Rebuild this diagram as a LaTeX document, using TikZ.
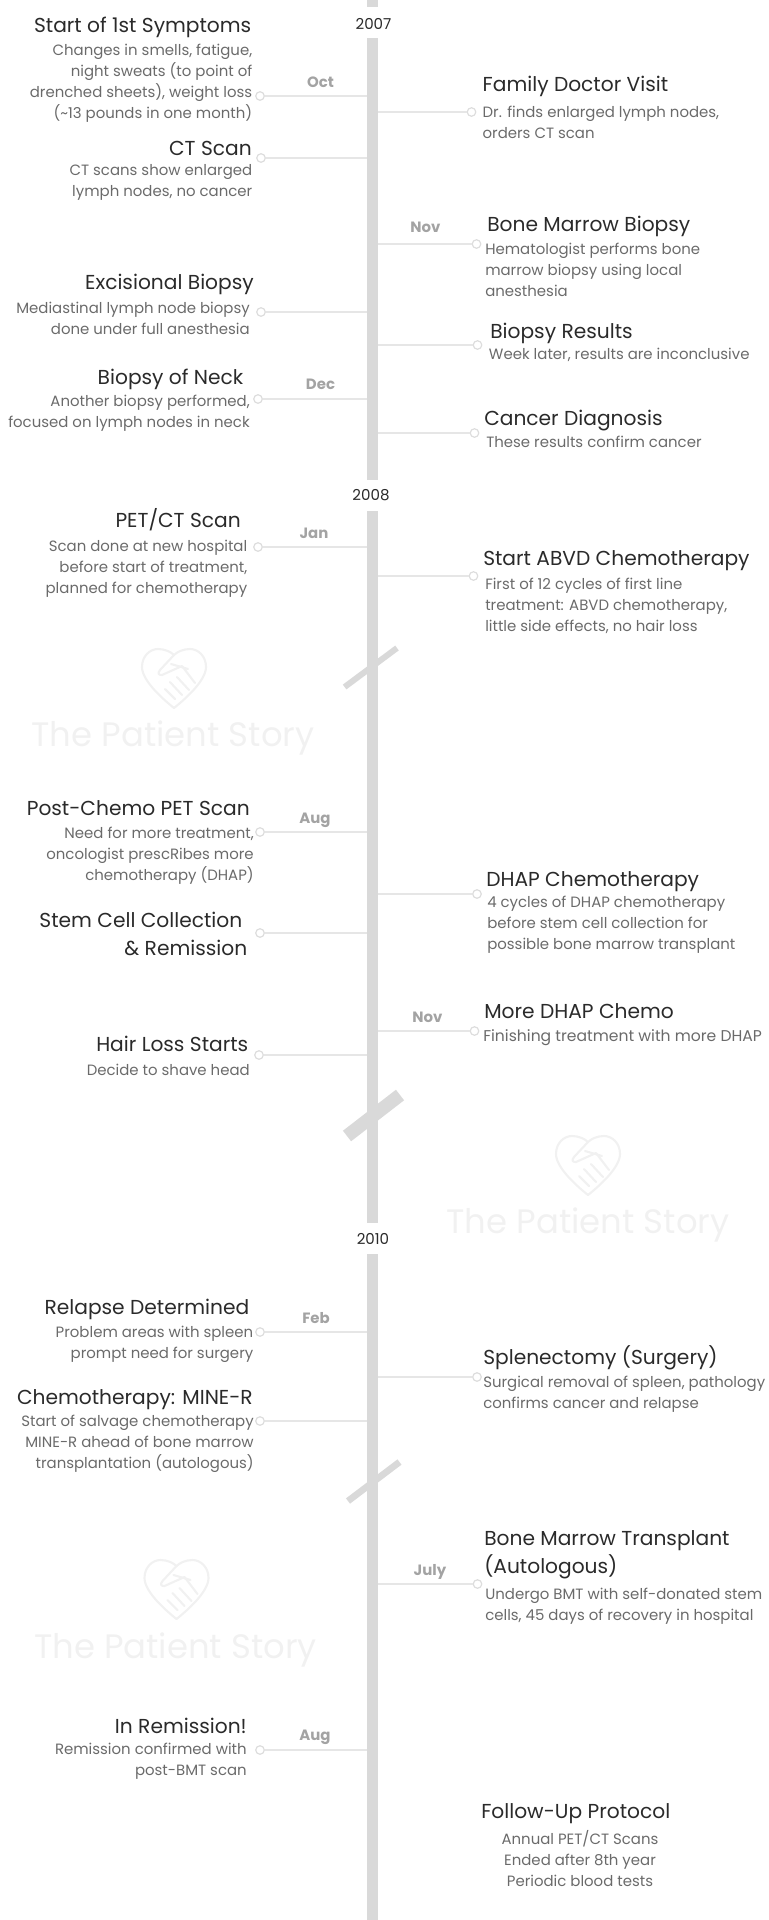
\documentclass[tikz,border=0pt]{standalone}
\usepackage{fontspec}
\setmainfont{Poppins}
\usetikzlibrary{positioning}
\definecolor{barcol}{HTML}{D9D9D9}
\definecolor{linecol}{HTML}{E6E6E6}
\definecolor{dotcol}{HTML}{DDDDDD}
\definecolor{headcol}{HTML}{2A2A2A}
\definecolor{textcol}{HTML}{6A6A6A}
\definecolor{monthcol}{HTML}{A3A3A3}
\definecolor{markcol}{HTML}{F1F1F1}
\tikzset{
  headL/.style={anchor=east,align=right,inner sep=0pt,yshift=-1.2pt,text=headcol,font=\fontsize{15.15}{21}\selectfont},
  headR/.style={anchor=west,align=left,inner sep=0pt,yshift=-1.2pt,text=headcol,font=\fontsize{15.15}{21}\selectfont},
  bodyL/.style={anchor=east,align=right,inner sep=0pt,yshift=-0.5pt,text=textcol,font=\fontsize{11.2}{15.75}\selectfont},
  bodyR/.style={anchor=west,align=left,inner sep=0pt,yshift=-0.5pt,text=textcol,font=\fontsize{11.2}{15.75}\selectfont},
  monthlab/.style={inner sep=0pt,text=monthcol,font=\fontsize{11.2}{12}\selectfont\bfseries},
  yearlab/.style={inner sep=0pt,text=headcol,font=\fontsize{11.3}{12}\selectfont},
  dotmark/.style={circle,draw=dotcol,fill=white,line width=0.9pt,minimum size=6.4pt,inner sep=0pt},
  linkline/.style={draw=linecol,line width=1.1pt},
  spinebar/.style={draw=barcol,line width=8.4pt},
  wmtext/.style={inner sep=0pt,yshift=-2.2pt,text=markcol,font=\fontsize{25.4}{30}\selectfont},
  pics/heartmark/.style={code={
    \draw[draw=markcol,line width=1.6pt,line join=round,line cap=round]
      (0,30) .. controls (-10,22) and (-32,3) .. (-32,-11)
      .. controls (-32,-22) and (-24,-29) .. (-16,-29)
      .. controls (-9,-29) and (-3,-26) .. (0,-23)
      .. controls (3,-26) and (9,-29) .. (16,-29)
      .. controls (24,-29) and (32,-22) .. (32,-11)
      .. controls (32,3) and (10,22) .. (0,30);
    \draw[draw=markcol,line width=1.6pt,line join=round,line cap=round]
      (0,-23) -- (-14,-8) .. controls (-17,-4) and (-15,-3) .. (-12,-3) -- (8,-12) -- (21,5);
    \draw[draw=markcol,line width=1.6pt,line cap=round] (-4,4) -- (8,17);
    \draw[draw=markcol,line width=1.6pt,line cap=round] (3,-1) -- (15,12);
    \draw[draw=markcol,line width=1.6pt,line cap=round] (-9,11) -- (1,21);
    \draw[draw=markcol,line width=1.6pt,line cap=round] (-3,-14) -- (14,-9);
  }}
}

\begin{document}
\begin{tikzpicture}[x=0.75pt,y=-0.75pt]
\useasboundingbox (0,0) rectangle (768,1920);

% watermarks
\pic at (174,678) {heartmark};
\node[wmtext] (markA) at (173,735) {The Patient Story};
\pic at (588,1165) {heartmark};
\node[wmtext] (markB) at (588,1222) {The Patient Story};
\pic at (176.5,1589) {heartmark};
\node[wmtext] (markC) at (175.5,1647) {The Patient Story};

% spine points
\coordinate (topA) at (372.5,0);
\coordinate (topB) at (372.5,7);
\coordinate (midA) at (372.5,38);
\coordinate (midB) at (372.5,480);
\coordinate (midC) at (372.5,511);
\coordinate (midD) at (372.5,1223);
\coordinate (lowA) at (372.5,1254);
\coordinate (lowB) at (372.5,1920);

% dots on the left
\node[dotmark] (dotOct) at (260,96) {};
\node[dotmark] (dotCT) at (261,158) {};
\node[dotmark] (dotExc) at (261,312) {};
\node[dotmark] (dotNeck) at (258,399) {};
\node[dotmark] (dotPet) at (258,547) {};
\node[dotmark] (dotPost) at (260,832) {};
\node[dotmark] (dotStem) at (260,933) {};
\node[dotmark] (dotHair) at (259,1055) {};
\node[dotmark] (dotRel) at (260,1332) {};
\node[dotmark] (dotMine) at (260,1421) {};
\node[dotmark] (dotRem) at (260,1750) {};
% dots on the right
\node[dotmark] (dotFam) at (471.5,112) {};
\node[dotmark] (dotBone) at (476.5,244) {};
\node[dotmark] (dotRes) at (477.5,345) {};
\node[dotmark] (dotDiag) at (474.5,433) {};
\node[dotmark] (dotAbvd) at (473.5,576) {};
\node[dotmark] (dotDhap) at (477,894) {};
\node[dotmark] (dotMore) at (474.5,1031) {};
\node[dotmark] (dotSpl) at (477,1377) {};
\node[dotmark] (dotBmt) at (477.5,1584) {};

\foreach \dotname in {dotOct,dotCT,dotExc,dotNeck,dotPet,dotPost,dotStem,dotHair,dotRel,dotMine,dotRem,dotFam,dotBone,dotRes,dotDiag,dotAbvd,dotDhap,dotMore,dotSpl,dotBmt}
  \draw[linkline] (\dotname) -- (\dotname -| topA);

% spine and its breaks
\draw[spinebar] (topA) -- (topB);
\draw[spinebar] (midA) -- (midB);
\draw[spinebar] (midC) -- (midD);
\draw[spinebar] (lowA) -- (lowB);
\draw[draw=barcol,line width=4.5pt] (344.6,687) -- (397,648);
\draw[draw=barcol,line width=10pt] (347,1136) -- (400,1095);
\draw[draw=barcol,line width=5pt] (348,1501) -- (399.5,1462);

% years and months
\node[yearlab] (yrA) at (373.5,24) {2007};
\node[yearlab] (yrB) at (371,495) {2008};
\node[yearlab] (yrC) at (373,1239) {2010};
\node[monthlab] (moOct) at (320.5,82) {Oct};
\node[monthlab] (moNov) at (425.5,227) {Nov};
\node[monthlab] (moDec) at (320.5,384) {Dec};
\node[monthlab] (moJan) at (314,533) {Jan};
\node[monthlab] (moAug) at (315,820.5) {Aug};
\node[monthlab] (moNovB) at (427.5,1017) {Nov};
\node[monthlab] (moFeb) at (316,1318) {Feb};
\node[monthlab] (moJuly) at (430,1571.5) {July};
\node[monthlab] (moAugB) at (315,1737) {Aug};

% left column
\node[headL] (hSymp) at (251.5,26) {Start of 1st Symptoms};
\node[bodyL] (bSymp) at (252.5,82.5) {Changes in smells, fatigue,\\night sweats (to point of\\drenched sheets), weight loss\\(\textasciitilde13 pounds in one month)};
\node[headL] (hCT) at (252,147) {CT Scan};
\node[bodyL] (bCT) at (252.5,181.5) {CT scans show enlarged\\lymph nodes, no cancer};
\node[headL] (hExc) at (254,283) {Excisional Biopsy};
\node[bodyL] (bExc) at (250,317.5) {Mediastinal lymph node biopsy\\done under full anesthesia};
\node[headL] (hNeck) at (243.6,378) {Biopsy of Neck};
\node[bodyL] (bNeck) at (250,412.5) {Another biopsy performed,\\focused on lymph nodes in neck};
\node[headL] (hPet) at (241,518.5) {PET/CT Scan};
\node[bodyL] (bPet) at (247.5,568) {Scan done at new hospital\\before start of treatment,\\planned for chemotherapy};
\node[headL] (hPost) at (250,807) {Post-Chemo PET Scan};
\node[bodyL] (bPost) at (254,855) {Need for more treatment,\\oncologist prescRibes more\\chemotherapy (DHAP)};
\node[headL] (hStem) at (247.5,932) {Stem Cell Collection\hspace*{3.7pt}\\\& Remission};
\node[headL] (hHair) at (248.5,1042) {Hair Loss Starts};
\node[bodyL] (bHair) at (250,1069) {Decide to shave head};
\node[headL] (hRel) at (249.5,1308) {Relapse Determined};
\node[bodyL] (bRel) at (253.5,1344) {Problem areas with spleen\\prompt need for surgery};
\node[headL] (hMine) at (253,1398) {Chemotherapy: MINE-R};
\node[bodyL] (bMine) at (254,1443.5) {Start of salvage chemotherapy\\MINE-R ahead of bone marrow\\transplantation (autologous)};
\node[headL] (hRem) at (247,1724) {In Remission!};
\node[bodyL] (bRem) at (247,1760.5) {Remission confirmed with\\post-BMT scan};

% right column
\node[headR] (hFam) at (482.4,85) {Family Doctor Visit};
\node[bodyR] (bFam) at (482.4,121.5) {Dr. finds enlarged lymph nodes,\\orders CT scan};
\node[headR] (hBone) at (487,225) {Bone Marrow Biopsy};
\node[bodyR] (bBone) at (485,269.5) {Hematologist performs bone\\marrow biopsy using local\\anesthesia};
\node[headR] (hRes) at (490,332) {Biopsy Results};
\node[bodyR] (bRes) at (488.7,354.5) {Week later, results are inconclusive};
\node[headR] (hDiag) at (484,419) {Cancer Diagnosis};
\node[bodyR] (bDiag) at (486,441) {These results confirm cancer};
\node[headR] (hAbvd) at (483,559) {Start ABVD Chemotherapy};
\node[bodyR] (bAbvd) at (485,605) {First of 12 cycles of first line\\treatment: ABVD chemotherapy,\\little side effects, no hair loss};
\node[headR] (hDhap) at (486,880) {DHAP Chemotherapy};
\node[bodyR] (bDhap) at (487,924.5) {4 cycles of DHAP chemotherapy\\before stem cell collection for\\possible bone marrow transplant};
\node[headR] (hMore) at (484,1009.5) {More DHAP Chemo};
\node[bodyR,font=\fontsize{11.7}{15.75}\selectfont] (bMore) at (483,1037) {Finishing treatment with more DHAP};
\node[headR] (hSpl) at (483,1356.5) {Splenectomy (Surgery)};
\node[bodyR] (bSpl) at (483,1394) {Surgical removal of spleen, pathology\\confirms cancer and relapse};
\node[headR] (hBmt) at (484,1553.5) {Bone Marrow Transplant\\(Autologous)};
\node[bodyR] (bBmt) at (485,1606) {Undergo BMT with self-donated stem\\cells, 45 days of recovery in hospital};
\node[headR] (hFol) at (481,1812) {Follow-Up Protocol};
\node[bodyR,anchor=center,align=center] (bFol) at (580,1857.5) {Annual PET/CT Scans\\Ended after 8th year\\Periodic blood tests};
\end{tikzpicture}
\end{document}
